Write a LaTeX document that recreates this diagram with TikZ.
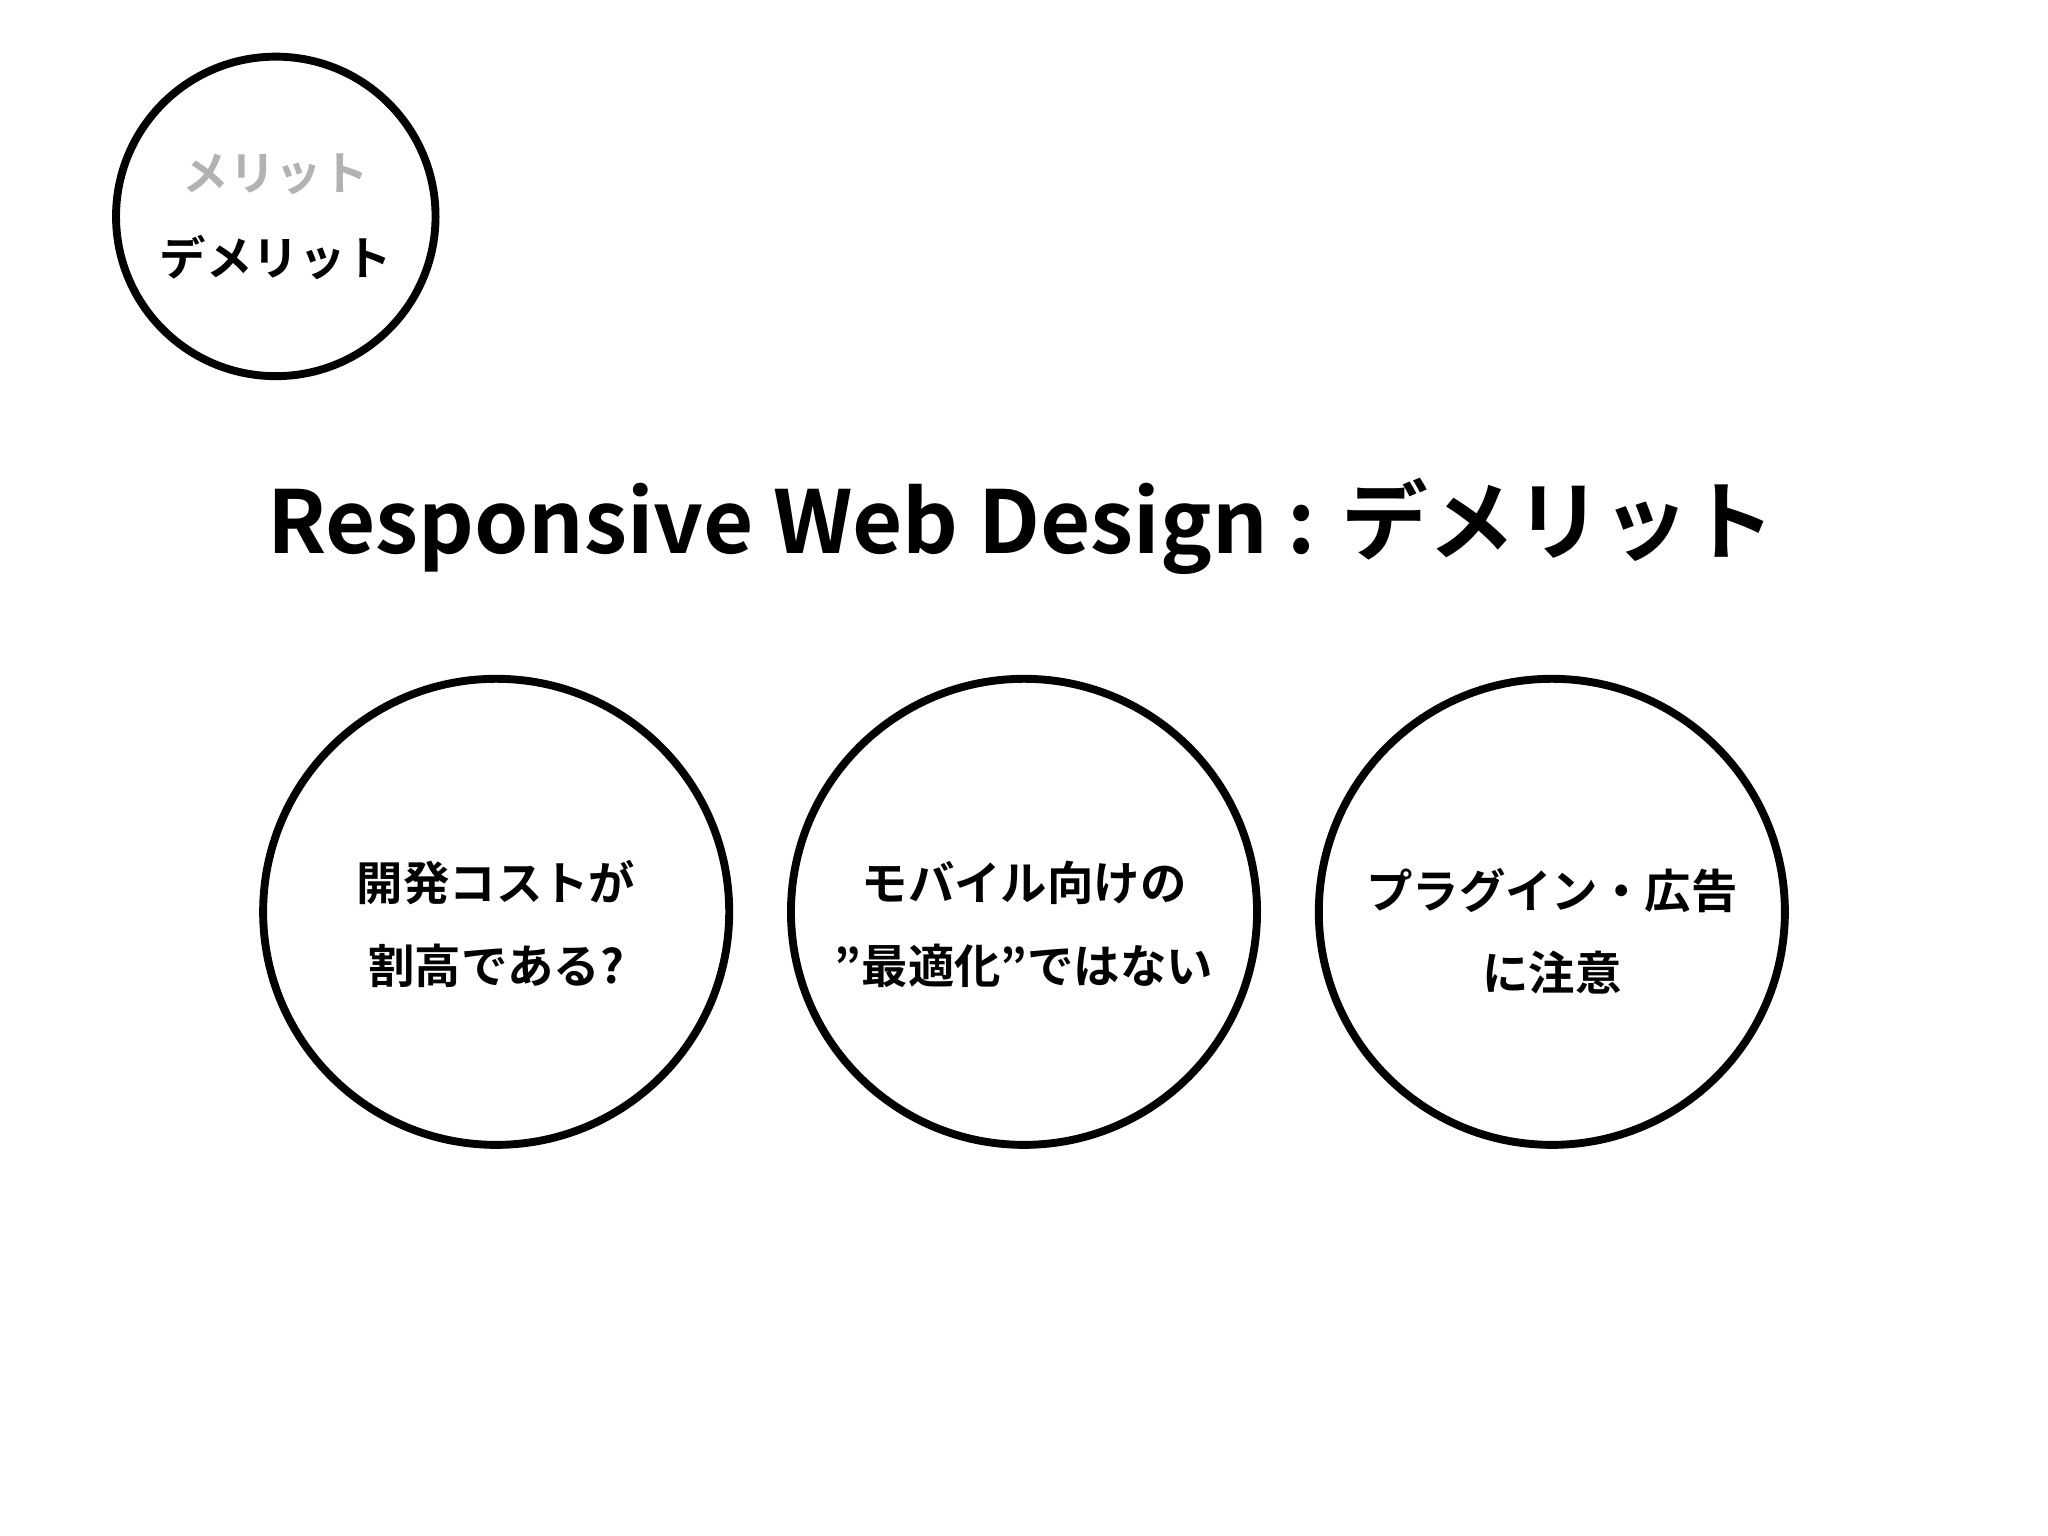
\documentclass[tikz,border=0pt]{standalone}
\usepackage{fontspec}
\setmainfont{Noto Sans CJK JP}[BoldFont={* Bold}]
\begin{document}
\begin{tikzpicture}[x=0.01cm,y=-0.01cm,
  ring/.style={circle,draw,line width=1.7pt,inner sep=0pt},
  lbl/.style={font=\bfseries\fontsize{10}{12}\selectfont,align=center}]
\useasboundingbox (0,0) rectangle (1552,1164);
\node[ring,minimum size=2.42cm] (c0) at (209,164) {};
\node[lbl,text=black!30] (m) at (209,132) {メリット};
\node[lbl] (d) at (209,195) {デメリット};
\node[font=\bfseries\fontsize{18.7}{22}\selectfont] (t) at (774,399) {Responsive Web Design : デメリット};
\node[ring,minimum size=3.53cm] (c1) at (376,691) {};
\node[ring,minimum size=3.53cm] (c2) at (776,691) {};
\node[ring,minimum size=3.53cm] (c3) at (1176,691) {};
\node[lbl] (a1) at (376,669) {開発コストが};
\node[lbl] (a2) at (376,732) {割高である?};
\node[lbl] (b1) at (776,669) {モバイル向けの};
\node[lbl] (b2) at (776,732) {”最適化”ではない};
\node[lbl] (e1) at (1176,675) {プラグイン・広告};
\node[lbl] (e2) at (1176,737) {に注意};
\end{tikzpicture}
\end{document}
